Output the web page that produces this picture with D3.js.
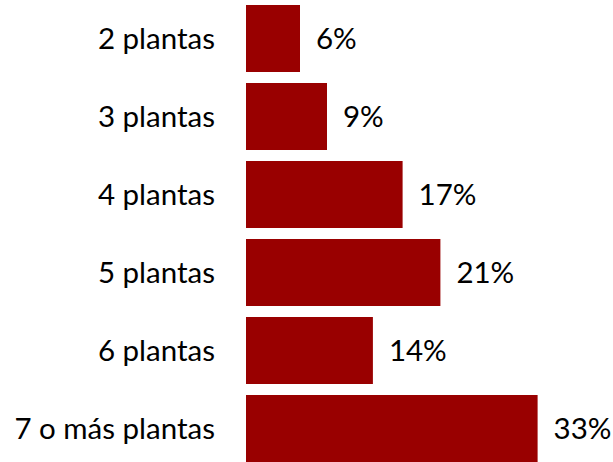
<!DOCTYPE html>
<html>
<head>
<meta charset="utf-8">
<script src="https://cdn.jsdelivr.net/npm/d3@7"></script>
<style>
  body { margin: 0; background: #fff; }
  text { font-family: Lato, "Liberation Sans", sans-serif; }
</style>
</head>
<body>
<div id="bar_chart"></div>
<script>
// data (bar lengths estimated, labels as printed)
var categories = ['2 plantas', '3 plantas', '4 plantas', '5 plantas', '6 plantas', '7 o más plantas'];
var shares = [6, 9, 17.4, 21.6, 14.1, 32.4];
var valueLabels = ['6%', '9%', '17%', '21%', '14%', '33%'];

var data = categories.map(function(c, i) {
  return {name: c, value: shares[i], label: valueLabels[i]};
});

var width = 613, height = 462;
var left = 246;

var svg = d3.select("#bar_chart")
  .append("svg")
    .attr("width", width)
    .attr("height", height);

var x = d3.scaleLinear()
  .domain([0, 10])
  .range([0, 90]);

var y = d3.scaleBand()
  .domain(categories)
  .range([5, 462])
  .paddingInner(0.141)
  .paddingOuter(0);

// bars
svg.selectAll(".bar")
  .data(data)
  .enter()
  .append("rect")
    .attr("class", "bar")
    .attr("x", left)
    .attr("y", function(d) { return y(d.name); })
    .attr("width", function(d) { return x(d.value); })
    .attr("height", y.bandwidth())
    .style("fill", "#990000");

// category labels
svg.selectAll(".cat")
  .data(data)
  .enter()
  .append("text")
    .attr("class", "cat")
    .attr("x", 215)
    .attr("y", function(d) { return y(d.name) + y.bandwidth() / 2; })
    .attr("dy", "0.35em")
    .attr("text-anchor", "end")
    .style("font-size", "29.5px")
    .style("fill", "#000")
    .text(function(d) { return d.name; });

// value labels
svg.selectAll(".val")
  .data(data)
  .enter()
  .append("text")
    .attr("class", "val")
    .attr("x", function(d) { return left + x(d.value) + 16; })
    .attr("y", function(d) { return y(d.name) + y.bandwidth() / 2; })
    .attr("dy", "0.35em")
    .style("font-size", "29.5px")
    .style("fill", "#000")
    .text(function(d) { return d.label; });
</script>
</body>
</html>
